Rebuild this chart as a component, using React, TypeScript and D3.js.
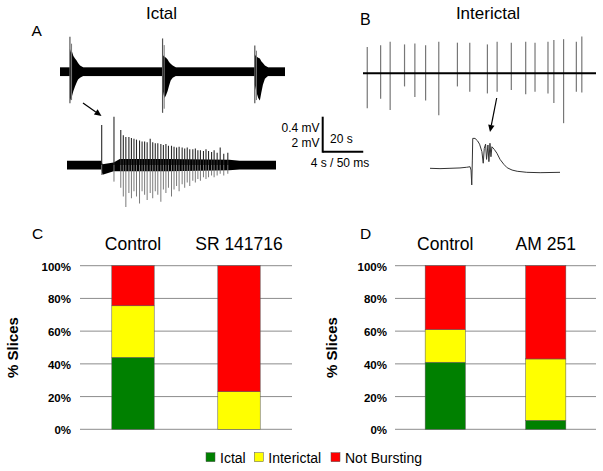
import React from 'react';
import * as d3 from 'd3';

// ---------- Bar chart data ----------
const seriesNames = ['Ictal', 'Interictal', 'Not Bursting'];
const seriesColors = ['#008000', '#FFFF00', '#FF0000'];
const categoriesC = ['Control', 'SR 141716'];
const ictalC = [0.44, 0.0];
const interictalC = [0.315, 0.23];
const notBurstingC = [0.245, 0.77];
const categoriesD = ['Control', 'AM 251'];
const ictalD = [0.41, 0.055];
const interictalD = [0.2, 0.375];
const notBurstingD = [0.39, 0.57];
const yTicks = [0, 0.2, 0.4, 0.6, 0.8, 1.0];

// ---------- Trace data (A: ictal, B: interictal) ----------
// A top trace: burst onsets (s), main spike amplitudes (mV), envelope (relative s, mV)
const ictalBurstT = [4.9, 50.6, 96.1];
const ictalBurstSpikeUp = [0.4, 0.38, 0.3];
const ictalBurstSpikeDown = [0.36, 0.47, 0.36];
const burstEnvT = [0, 0.5, 1, 1.7, 2.5, 3.2, 4, 5, 6.5];
const burstEnvUp = [
  [0.26, 0.22, 0.23, 0.18, 0.15, 0.13, 0.1, 0.07, 0.05],
  [0.2, 0.18, 0.17, 0.16, 0.14, 0.11, 0.09, 0.07, 0.05],
  [0.2, 0.18, 0.17, 0.16, 0.15, 0.12, 0.1, 0.07, 0.05],
];
const burstEnvDown = [
  [0.3, 0.33, 0.28, 0.22, 0.17, 0.13, 0.09, 0.07, 0.05],
  [0.2, 0.26, 0.3, 0.27, 0.22, 0.16, 0.1, 0.07, 0.05],
  [0.15, 0.2, 0.25, 0.3, 0.33, 0.24, 0.15, 0.08, 0.05],
];
const topNoise = 0.05;

// A bottom trace (expanded burst): spike times (s), up/down amplitudes (mV)
const ictalSpikeT = [3.42, 4.63, 5.3, 5.55, 5.8, 6.1, 6.35, 6.6, 6.85, 7.15, 7.4, 7.65, 7.9, 8.2, 8.45, 8.7, 8.95, 9.25, 9.5, 9.75, 10.0, 10.3, 10.55, 10.8, 11.05, 11.35, 11.6, 11.85, 12.1, 12.4, 12.65, 12.9, 13.15, 13.45, 13.7, 13.95, 14.25, 14.5, 14.8, 15.1, 15.45, 15.85];
const ictalSpikeUp = [2.29, 2.76, 2.0, 1.7, 1.6, 1.6, 1.55, 1.5, 1.45, 1.4, 1.35, 1.35, 1.3, 1.5, 1.3, 1.25, 1.25, 1.2, 1.15, 1.2, 1.1, 1.1, 1.05, 1.0, 1.05, 1.0, 0.95, 1.0, 0.9, 0.9, 0.95, 0.85, 0.85, 0.8, 0.9, 0.8, 0.75, 0.85, 0.7, 1.0, 0.65, 0.7];
const ictalSpikeDown = [0.57, 0.95, 1.3, 1.8, 2.4, 1.6, 1.9, 1.5, 1.8, 2.2, 1.5, 1.7, 2.0, 1.6, 1.9, 1.5, 1.7, 2.1, 1.4, 1.6, 1.3, 1.8, 1.4, 1.2, 1.5, 1.1, 1.3, 1.0, 1.2, 0.9, 1.0, 0.8, 0.9, 0.7, 0.8, 0.7, 0.6, 0.7, 0.6, 0.5, 0.6, 0.5];
const ictalBandT = [0, 3.38, 3.5, 4.6, 5.2, 10, 16, 17, 20.6];
const ictalBandMid = [0, 0, -0.25, -0.1, 0, 0, 0, 0, 0];
const ictalBandHalf = [0.25, 0.25, 0.3, 0.25, 0.35, 0.35, 0.3, 0.25, 0.25];

// B top trace: spike times (s), up/down amplitudes (mV)
const interSpikeT = [2.1, 8.7, 13.4, 20.5, 25.6, 30.9, 37.4, 46.6, 52.7, 61.4, 66.2, 73.2, 80.3, 84.9, 91.3, 94.2, 99.0, 105.3, 108.0];
const interSpikeUp = [0.3, 0.32, 0.36, 0.33, 0.34, 0.32, 0.36, 0.35, 0.35, 0.33, 0.36, 0.35, 0.36, 0.35, 0.36, 0.38, 0.39, 0.36, 0.42];
const interSpikeDown = [0.4, 0.29, 0.42, 0.15, 0.27, 0.31, 0.48, 0.15, 0.21, 0.23, 0.21, 0.19, 0.24, 0.21, 0.23, 0.34, 0.57, 0.21, 0.22];

// B bottom trace (single event): time (ms), voltage (mV)
const eventT = [0, 12.3, 24.6, 36.9, 45.2, 49.3, 50.5, 51.4, 52.1, 52.6, 55.4, 58.5, 61, 63.9, 65.5, 66.8, 68.4, 69.6, 71.3, 72.5, 73.8, 75, 76.2, 79.1, 82.4, 86.2, 90.8, 95, 101, 107.3, 119.1, 135.5, 160];
const eventV = [0, -0.02, 0, 0.02, 0.06, 0.09, -0.1, -0.95, 0.47, 1.71, 1.71, 1.57, 1.38, 0.95, 0.29, 1.14, 1.38, 0.51, 1.33, 0.38, 1.43, 0.66, 1.23, 1.08, 0.86, 0.51, 0.23, 0.03, -0.1, -0.17, -0.23, -0.25, -0.23];

const FONT = 'Liberation Sans, Arial, Helvetica, sans-serif';

function Arrow({ x1, y1, x2, y2 }: { x1: number; y1: number; x2: number; y2: number }) {
  const ang = Math.atan2(y2 - y1, x2 - x1);
  const L = 7, W = 3.2;
  const bx = x2 - L * Math.cos(ang), by = y2 - L * Math.sin(ang);
  const px = -Math.sin(ang) * W, py = Math.cos(ang) * W;
  return (
    <g>
      <line x1={x1} y1={y1} x2={bx} y2={by} stroke="#000" strokeWidth={1.2} />
      <path d={`M${x2},${y2}L${bx + px},${by + py}L${bx - px},${by - py}Z`} fill="#000" />
    </g>
  );
}

function StackedPanel(props: {
  letter: string; letterX: number; yLabelX: number; tickX: number;
  left: number; right: number; categories: string[];
  ictal: number[]; interictal: number[]; notBursting: number[];
}) {
  const { letter, letterX, yLabelX, tickX, left, right, categories, ictal, interictal, notBursting } = props;
  const y = d3.scaleLinear().domain([0, 1]).range([429.3, 265.7]);
  const x = d3.scaleBand<string>().domain(categories).range([left, right]).paddingInner(0.6).paddingOuter(0.3);
  const rows = categories.map((c, i) => ({ cat: c, Ictal: ictal[i], Interictal: interictal[i], 'Not Bursting': notBursting[i] }));
  const stacked = d3.stack<any>().keys(seriesNames)(rows);
  const fmt = d3.format('.0%');
  return (
    <g>
      <text x={letterX} y={238.5} fontSize={15.5} fontFamily={FONT}>{letter}</text>
      {categories.map((c) => (
        <text key={c} x={(x(c) as number) + x.bandwidth() / 2} y={250} fontSize={17.5} fontFamily={FONT} textAnchor="middle">{c}</text>
      ))}
      {yTicks.map((t) => (
        <g key={t}>
          <line x1={left} x2={right} y1={y(t)} y2={y(t)} stroke="#8c8c8c" strokeWidth={1} />
          <text x={tickX} y={y(t) + 1} fontSize={11.5} fontWeight="bold" fontFamily={FONT} textAnchor="end" dominantBaseline="central">{fmt(t)}</text>
        </g>
      ))}
      {stacked.map((s, si) => (
        <g key={s.key}>
          {s.map((d, i) => (d[1] - d[0] > 0 ? (
            <rect key={i} x={x(categories[i])} width={x.bandwidth()} y={y(d[1])} height={y(d[0]) - y(d[1])}
              fill={seriesColors[si]} stroke="#555" strokeWidth={0.5} />
          ) : null))}
        </g>
      ))}
      <text transform={`translate(${yLabelX},${347.5}) rotate(-90)`} fontSize={15} fontWeight="bold" fontFamily={FONT} textAnchor="middle">% Slices</text>
    </g>
  );
}

export default function App() {
  // ---- scales for traces ----
  const xA = d3.scaleLinear().domain([0, 111]).range([60, 285]);
  const yA = d3.scaleLinear().domain([0, 0.4]).range([71.7, 36.7]);
  const xAz = d3.scaleLinear().domain([0, 20.6]).range([67, 276]);
  const yAz = d3.scaleLinear().domain([0, 2]).range([165, 130]);
  const xB = d3.scaleLinear().domain([0, 115]).range([363, 596]);
  const yB = d3.scaleLinear().domain([0, 0.4]).range([73.3, 38.3]);
  const xBz = d3.scaleLinear().domain([0, 160]).range([430, 560]);
  const yBz = d3.scaleLinear().domain([0, 2]).range([168.3, 133.3]);

  const envArea = d3.area<any>()
    .x((d) => d[0])
    .y0((d) => d[1])
    .y1((d) => d[2]);

  const burstPaths = ictalBurstT.map((t0, b) => {
    const pts: any[] = burstEnvT.map((dt, i) => [xA(t0 + dt), yA(-burstEnvDown[b][i]), yA(burstEnvUp[b][i])]);
    return envArea(pts);
  });

  const bandArea = d3.area<number>()
    .x((_, i) => xAz(ictalBandT[i]))
    .y0((_, i) => yAz(ictalBandMid[i] - ictalBandHalf[i]))
    .y1((_, i) => yAz(ictalBandMid[i] + ictalBandHalf[i]));
  const bandPath = bandArea(ictalBandT as any);

  const eventLine = d3.line<number>().x((_, i) => xBz(eventT[i])).y((_, i) => yBz(eventV[i]));

  const scaleX0 = 322.7;
  const scaleY0 = 151.7;
  const vLen = yA(0) - yA(0.4);
  const hLen = xA(20) - xA(0);

  return (
    <svg width={603} height={471} style={{ position: 'absolute', left: 0, top: 0, background: '#fff' }} fontFamily={FONT}>
      <rect width={603} height={471} fill="#fff" />
      {/* Panel A */}
      <text x={31.5} y={36} fontSize={15.5}>A</text>
      <text x={161.5} y={18.5} fontSize={17} textAnchor="middle">Ictal</text>
      <rect x={xA(0)} width={xA(111) - xA(0)} y={yA(topNoise)} height={yA(-topNoise) - yA(topNoise)} fill="#000" />
      {burstPaths.map((p, i) => <path key={i} d={p as string} fill="#000" />)}
      {ictalBurstT.map((t0, i) => (
        <g key={i}>
          <line x1={xA(t0)} x2={xA(t0)} y1={yA(ictalBurstSpikeUp[i])} y2={yA(-ictalBurstSpikeDown[i])} stroke="#555" strokeWidth={1.2} />
          <line x1={xA(t0 + 0.8)} x2={xA(t0 + 0.8)} y1={yA(ictalBurstSpikeUp[i] * 0.8)} y2={yA(-ictalBurstSpikeDown[i] * 0.9)} stroke="#777" strokeWidth={1} />
        </g>
      ))}
      <Arrow x1={83} y1={103} x2={101.5} y2={116} />
      <path d={bandPath as string} fill="#000" />
      {ictalSpikeT.map((t, i) => (
        <g key={i}>
          <line x1={xAz(t)} x2={xAz(t)} y1={yAz(0)} y2={yAz(-ictalSpikeDown[i])} stroke="#7a7a7a" strokeWidth={1} />
          <line x1={xAz(t)} x2={xAz(t)} y1={yAz(ictalSpikeUp[i])} y2={yAz(0)} stroke="#2a2a2a" strokeWidth={1.1} />
        </g>
      ))}

      {/* Scale bar */}
      <line x1={scaleX0} x2={scaleX0} y1={scaleY0 - vLen} y2={scaleY0 + 1} stroke="#000" strokeWidth={2} />
      <line x1={scaleX0} x2={scaleX0 + hLen} y1={scaleY0} y2={scaleY0} stroke="#000" strokeWidth={2} />
      <text x={319.5} y={131.5} fontSize={12} textAnchor="end">0.4 mV</text>
      <text x={319.5} y={147} fontSize={12} textAnchor="end">2 mV</text>
      <text x={330} y={143} fontSize={12}>20 s</text>
      <text x={340} y={166.5} fontSize={12} textAnchor="middle">4 s / 50 ms</text>

      {/* Panel B */}
      <text x={360} y={25} fontSize={16}>B</text>
      <text x={488} y={18.5} fontSize={17} textAnchor="middle">Interictal</text>
      {interSpikeT.map((t, i) => (
        <line key={i} x1={xB(t)} x2={xB(t)} y1={yB(interSpikeUp[i])} y2={yB(-interSpikeDown[i])} stroke="#777" strokeWidth={1.2} />
      ))}
      <line x1={xB(0)} x2={xB(115)} y1={yB(0)} y2={yB(0)} stroke="#000" strokeWidth={2} />
      <Arrow x1={496.7} y1={98} x2={490} y2={132} />
      <path d={eventLine(eventT as any) as string} fill="none" stroke="#333" strokeWidth={1} />

      {/* Panels C and D */}
      <StackedPanel letter="C" letterX={32} yLabelX={18.3} tickX={71} left={80} right={292}
        categories={categoriesC} ictal={ictalC} interictal={interictalC} notBursting={notBurstingC} />
      <StackedPanel letter="D" letterX={360} yLabelX={336.7} tickX={387} left={395} right={596}
        categories={categoriesD} ictal={ictalD} interictal={interictalD} notBursting={notBurstingD} />

      {/* Legend */}
      {seriesNames.map((n, i) => {
        const xs = [206, 254.3, 331];
        return (
          <g key={n}>
            <rect x={xs[i]} y={452.7} width={9} height={9} fill={seriesColors[i]} stroke="#555" strokeWidth={0.5} />
            <text x={xs[i] + 14} y={462.5} fontSize={14}>{n}</text>
          </g>
        );
      })}
    </svg>
  );
}
